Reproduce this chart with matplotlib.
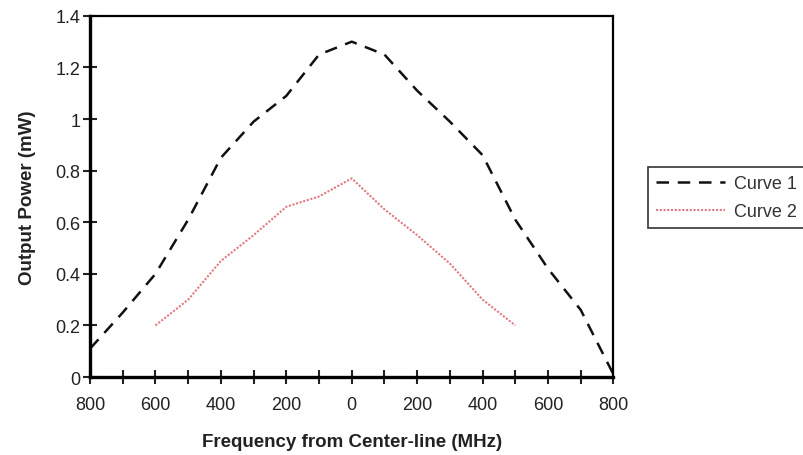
import matplotlib.pyplot as plt

plt.rcParams['font.family'] = ['Liberation Sans', 'DejaVu Sans']

freq = [-800, -700, -600, -500, -400, -300, -200, -100, 0,
        100, 200, 300, 400, 500, 600, 700, 800]
curve1 = [0.11, 0.25, 0.40, 0.61, 0.85, 0.99, 1.09, 1.25, 1.30,
          1.25, 1.11, 0.99, 0.86, 0.61, 0.42, 0.26, 0.01]

freq2 = [-600, -500, -400, -300, -200, -100, 0, 100, 200, 300, 400, 500]
curve2 = [0.20, 0.30, 0.45, 0.55, 0.66, 0.70, 0.77, 0.65, 0.55, 0.44, 0.30, 0.20]

xticks = list(range(-800, 801, 100))
xtick_labels = ['800', '', '600', '', '400', '', '200', '', '0',
                '', '200', '', '400', '', '600', '', '800']
yticks = [0, 0.2, 0.4, 0.6, 0.8, 1.0, 1.2, 1.4]
ytick_labels = ['0', '0.2', '0.4', '0.6', '0.8', '1', '1.2', '1.4']

fig = plt.figure(figsize=(8.04, 4.56), dpi=100)
ax = fig.add_axes([0.112, 0.171, 0.651, 0.792])

ax.plot(freq, curve1, color='#111111', lw=1.8, ls=(0, (5, 3.5)), label='Curve 1')
ax.plot(freq2, curve2, color='#e07a80', lw=1.5, ls=(0, (1, 0.8)), label='Curve 2')

ax.set_xlim(-800, 800)
ax.set_ylim(0, 1.4)
ax.set_xticks(xticks)
ax.set_xticklabels(xtick_labels)
ax.set_yticks(yticks)
ax.set_yticklabels(ytick_labels)
ax.tick_params(direction='inout', length=10, width=1.5, labelsize=13,
               colors='#222222')
ax.tick_params(axis='x', pad=9)
ax.tick_params(axis='y', pad=2)

for side in ['left', 'bottom']:
    ax.spines[side].set_linewidth(2.4)
for side in ['top', 'right']:
    ax.spines[side].set_linewidth(1.6)

ax.set_xlabel('Frequency from Center-line (MHz)', fontsize=13.5,
              fontweight='bold', color='#222222', labelpad=14)
ax.set_ylabel('Output Power (mW)', fontsize=13.5, fontweight='bold',
              color='#222222', labelpad=14)

leg = fig.legend(loc='upper left', bbox_to_anchor=(648 / 804, 1 - 168 / 456),
                 fancybox=False, edgecolor='black', fontsize=13,
                 handlelength=3.8, handletextpad=0.5, borderpad=0.45,
                 labelspacing=0.6, borderaxespad=0)
leg.get_frame().set_linewidth(1.2)
for text in leg.get_texts():
    text.set_color('#333333')

fig.savefig('out.png', dpi=100, facecolor='w')
